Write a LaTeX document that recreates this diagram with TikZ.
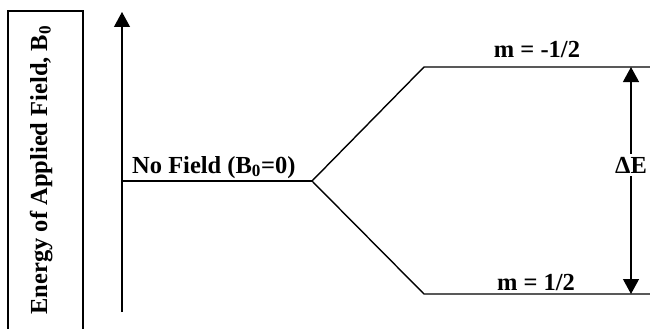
\documentclass[tikz,border=0pt]{standalone}
\usepackage{fontspec}
\setmainfont{Liberation Serif}
\usetikzlibrary{arrows.meta}
\begin{document}
\begin{tikzpicture}[x=1pt,y=-1pt,
  lbl/.style={font=\fontsize{24.5}{29}\selectfont\bfseries, inner sep=0pt},
  lvl/.style={line width=1.4pt},
  tip/.style={-{Triangle[length=15pt,width=16pt]}}]
\useasboundingbox (0,0) rectangle (650,329);
\clip (0,0) rectangle (650,329);
% label box
\draw[line width=1.6pt] (8,340) -- (8,11) -- (83,11) -- (83,340);
\node[lbl, rotate=90, anchor=base] (ylab) at (47,170) {Energy of Applied Field, B\textsubscript{0}};
% axis
\coordinate (ax0) at (122,312);
\coordinate (ax1) at (122,12);
\draw[lvl, line width=1.2pt, tip] (ax0) -- (ax1);
% levels
\coordinate (nf0) at (122,181);
\coordinate (br) at (312,181);
\coordinate (up0) at (424,67);
\coordinate (up1) at (650,67);
\coordinate (lo0) at (424,294);
\coordinate (lo1) at (650,294);
\draw[lvl] (nf0) -- (br);
\draw[lvl] (br) -- (up0) -- (up1);
\draw[lvl] (br) -- (lo0) -- (lo1);
\node[lbl, anchor=base west] (nf) at (132,173) {No Field (B\textsubscript{0}=0)};
\node[lbl, anchor=base] (mup) at (537,58) {m = -1/2};
\node[lbl, anchor=base] (mlo) at (536,290) {m = 1/2};
% Delta E
\coordinate (de0) at (631,67);
\coordinate (de1) at (631,294);
\draw[line width=1.2pt, {Triangle[length=15pt,width=16pt]}-{Triangle[length=15pt,width=16pt]}] (de0) -- (de1);
\node[lbl, anchor=base, fill=white, inner ysep=3pt, inner xsep=0pt] (de) at (631,173) {ΔE};
\end{tikzpicture}
\end{document}
